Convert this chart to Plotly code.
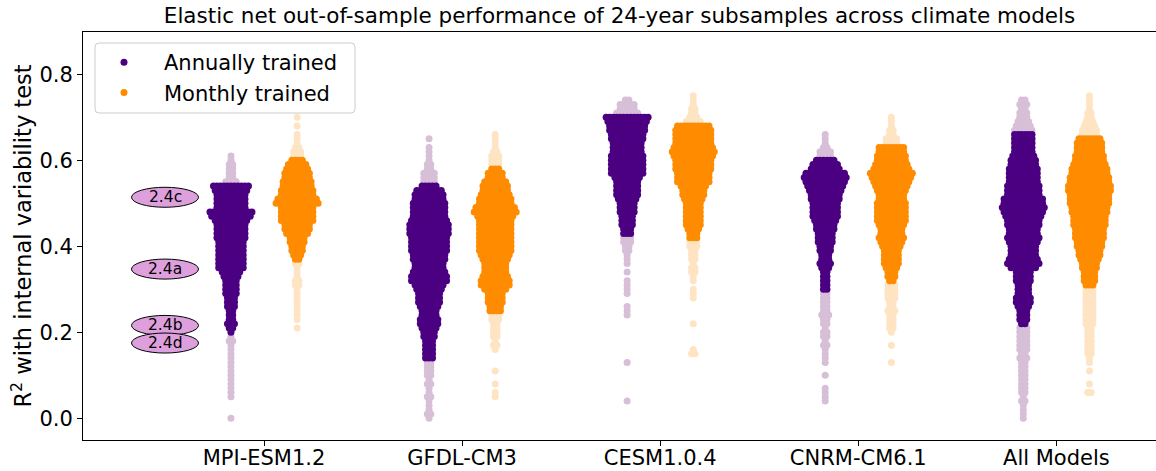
import plotly.graph_objects as go

# ---------------------------------------------------------------------------
# Data
# ---------------------------------------------------------------------------
MODELS = ["MPI-ESM1.2", "GFDL-CM3", "CESM1.0.4", "CNRM-CM6.1", "All Models"]

# Number of 24-year subsamples at each R² level (0.01 steps),
# listed upward starting from the first level given for each model.
ANNUAL_FIRST_LEVEL = [0.00, 0.00, 0.04, 0.04, 0.00]
annual_mpi = [1, 0, 0, 0, 0, 1, 1, 1, 1, 1, 1, 1, 1, 1, 1, 1, 1, 1, 2, 1,
              1, 2, 3, 2, 2, 2, 3, 3, 3, 4, 4, 4, 4, 5, 6, 8, 8, 8, 8, 8,
              8, 8, 9, 9, 9, 9, 10, 12, 13, 9, 9, 9, 9, 10, 11, 4, 2, 2, 2, 2,
              1, 1]
annual_gfdl = [1, 2, 1, 1, 1, 2, 1, 1, 2, 1, 2, 2, 2, 2, 3, 3, 3, 3, 3, 4,
               4, 5, 6, 6, 5, 5, 6, 7, 7, 7, 8, 9, 11, 11, 10, 9, 9, 10, 10, 11,
               11, 11, 11, 12, 12, 12, 11, 10, 10, 10, 10, 9, 9, 8, 5, 4, 4, 4, 2, 2,
               1, 1, 1, 1, 0, 1]
annual_cesm = [1, 0, 0, 0, 0, 0, 0, 0, 0, 1, 0, 0, 0, 0, 0, 0, 0, 0, 0, 0,
               1, 1, 1, 0, 0, 1, 1, 1, 1, 0, 1, 0, 1, 1, 1, 2, 2, 3, 3,
               3, 3, 4, 4, 4, 5, 5, 5, 6, 7, 7, 7, 7, 8, 10, 10, 10, 10, 10, 9,
               9, 9, 10, 10, 11, 11, 12, 13, 7, 5, 5, 2]
annual_cnrm = [1, 1, 1, 1, 0, 0, 1, 0, 0, 1, 1, 1, 1, 2, 1, 2, 2, 1, 2, 2,
               3, 2, 2, 2, 2, 2, 2, 2, 2, 2, 2, 3, 4, 3, 3, 4, 4, 5, 5, 5,
               6, 6, 7, 8, 8, 8, 8, 9, 9, 10, 11, 12, 13, 12, 9, 8, 6, 4, 4, 2,
               1, 1, 1]
annual_all = [1, 1, 1, 1, 2, 1, 2, 2, 2, 2, 2, 2, 2, 2, 3, 2, 3, 3, 3, 3,
              3, 3, 2, 3, 3, 3, 4, 5, 5, 4, 4, 4, 5, 5, 5, 8, 10, 9, 8, 8,
              8, 9, 10, 9, 9, 10, 10, 11, 12, 13, 12, 12, 10, 10, 10, 9, 9, 9, 9, 8,
              8, 7, 6, 6, 6, 6, 6, 6, 5, 4, 3, 3, 2, 3, 2]
ANNUAL_COUNTS = [annual_mpi, annual_gfdl, annual_cesm, annual_cnrm, annual_all]

MONTHLY_FIRST_LEVEL = [0.21, 0.05, 0.15, 0.13, 0.06]
monthly_mpi = [1, 0, 1, 1, 1, 1, 1, 1, 1, 1, 2, 2, 1, 1, 1, 2, 2, 3, 4, 4,
               5, 5, 7, 8, 8, 10, 10, 10, 10, 13, 12, 10, 10, 9, 9, 8, 8, 7, 6, 4,
               3, 3, 2, 1, 1, 1, 0, 1, 0, 1]
monthly_gfdl = [1, 1, 0, 1, 0, 0, 1, 0, 0, 0, 0, 1, 2, 1, 2, 2, 2, 2, 3, 3,
                4, 4, 5, 5, 5, 7, 9, 9, 8, 7, 7, 7, 8, 9, 10, 10, 10, 10, 10, 10,
                10, 10, 11, 13, 12, 10, 10, 9, 8, 8, 7, 5, 5, 3, 3, 3, 3, 2, 1, 1,
                1, 1]
monthly_cesm = [2, 1, 0, 0, 0, 0, 0, 1, 0, 0, 0, 0, 0, 1, 1, 1, 0, 1, 1, 2,
                2, 1, 2, 2, 2, 3, 3, 3, 3, 4, 5, 5, 5, 5, 5, 5, 6, 7, 7, 8,
                10, 10, 10, 11, 11, 11, 12, 13, 12, 11, 11, 11, 11, 10, 5, 3, 2, 2, 1, 1,
                1]
monthly_cnrm = [1, 0, 0, 0, 1, 0, 0, 1, 2, 2, 2, 2, 3, 2, 2, 3, 3, 3, 3, 2,
                3, 3, 4, 5, 5, 5, 5, 6, 7, 8, 7, 7, 8, 9, 9, 9, 9, 9, 8, 8,
                9, 10, 11, 12, 13, 11, 10, 9, 9, 8, 8, 4, 4, 2, 2, 1, 1, 1]
monthly_all = [2, 0, 1, 0, 0, 1, 0, 1, 1, 2, 2, 2, 2, 2, 2, 2, 3, 3, 3, 3,
               3, 3, 3, 3, 3, 3, 4, 4, 4, 5, 5, 6, 7, 7, 8, 8, 9, 9, 9, 10,
               10, 10, 11, 11, 12, 12, 12, 13, 13, 12, 12, 11, 11, 10, 9, 9, 8, 8, 8, 7,
               5, 5, 4, 3, 2, 2, 1, 1, 1, 1]
MONTHLY_COUNTS = [monthly_mpi, monthly_gfdl, monthly_cesm, monthly_cnrm, monthly_all]

# Central range of each distribution (points outside it are drawn pale)
ANNUAL_CORE_LOW = [0.195, 0.135, 0.425, 0.295, 0.215]
ANNUAL_CORE_HIGH = [0.545, 0.545, 0.705, 0.605, 0.665]
MONTHLY_CORE_LOW = [0.365, 0.245, 0.415, 0.315, 0.305]
MONTHLY_CORE_HIGH = [0.605, 0.585, 0.685, 0.635, 0.655]

# Reference cases shown in Fig. 2.4
FIG_LABELS = ["2.4c", "2.4a", "2.4b", "2.4d"]
FIG_R2 = [0.514, 0.347, 0.216, 0.175]

Y_TICKS = [0.0, 0.2, 0.4, 0.6, 0.8]

# ---------------------------------------------------------------------------
# Layout / style
# ---------------------------------------------------------------------------
WIDTH, HEIGHT = 1156, 471
MARGIN = dict(l=83, r=0, t=32, b=31)
X_RANGE = [-0.914, 4.503]
Y_RANGE = [-0.0505, 0.8984]
DODGE = 0.167
MARKER_PX = 7
SPACING_PX = 3.5
FONT = "DejaVu Sans"

ANNUAL_DARK, ANNUAL_PALE = "#4B0082", "#D8BFD8"
MONTHLY_DARK, MONTHLY_PALE = "#FF8C00", "#FFE4C4"

plot_w = WIDTH - MARGIN["l"] - MARGIN["r"]
plot_h = HEIGHT - MARGIN["t"] - MARGIN["b"]
px_per_x = plot_w / (X_RANGE[1] - X_RANGE[0])


def swarm(center, first_level, counts, lo, hi):
    """Spread each R² level's points horizontally around the category centre."""
    dark_x, dark_y, pale_x, pale_y = [], [], [], []
    for i, n in enumerate(counts):
        level = round(first_level + 0.01 * i, 2)
        for k in range(n):
            x = center + (k - (n - 1) / 2) * SPACING_PX / px_per_x
            if lo <= level <= hi:
                dark_x.append(x)
                dark_y.append(level)
            else:
                pale_x.append(x)
                pale_y.append(level)
    return dark_x, dark_y, pale_x, pale_y


def collect(first_levels, counts_list, lows, highs, offset):
    dx, dy, px, py = [], [], [], []
    for m in range(len(MODELS)):
        a, b, c, d = swarm(m + offset, first_levels[m], counts_list[m], lows[m], highs[m])
        dx += a
        dy += b
        px += c
        py += d
    return dx, dy, px, py


ann = collect(ANNUAL_FIRST_LEVEL, ANNUAL_COUNTS, ANNUAL_CORE_LOW, ANNUAL_CORE_HIGH, -DODGE)
mon = collect(MONTHLY_FIRST_LEVEL, MONTHLY_COUNTS, MONTHLY_CORE_LOW, MONTHLY_CORE_HIGH, DODGE)

fig = go.Figure()


def marker(color):
    return dict(color=color, size=MARKER_PX, line=dict(width=0))


fig.add_trace(go.Scatter(x=ann[2], y=ann[3], mode="markers", marker=marker(ANNUAL_PALE),
                         showlegend=False, hoverinfo="y"))
fig.add_trace(go.Scatter(x=mon[2], y=mon[3], mode="markers", marker=marker(MONTHLY_PALE),
                         showlegend=False, hoverinfo="y"))
fig.add_trace(go.Scatter(x=ann[0], y=ann[1], mode="markers", marker=marker(ANNUAL_DARK),
                         name="Annually trained", legendgroup="a", legendrank=1))
fig.add_trace(go.Scatter(x=mon[0], y=mon[1], mode="markers", marker=marker(MONTHLY_DARK),
                         name="Monthly trained", legendgroup="m", legendrank=2))

# Labelled ellipses marking the example cases
for label, r2 in zip(FIG_LABELS, FIG_R2):
    fig.add_shape(type="circle", xref="x", yref="y", xsizemode="pixel", ysizemode="pixel",
                  xanchor=-0.5, yanchor=r2, x0=-33.5, x1=33.5, y0=-10, y1=10,
                  fillcolor="#DDA0DD", line=dict(color="black", width=1), layer="above")
    fig.add_annotation(x=-0.5, y=r2, xref="x", yref="y", text=label, showarrow=False,
                       xanchor="center", yanchor="middle",
                       font=dict(family=FONT, size=15.5, color="black"))


def to_paper(px_x, px_y):
    return (px_x - MARGIN["l"]) / plot_w, 1 - (px_y - MARGIN["t"]) / plot_h


# Rounded legend frame
lx0, lx1, ly0, ly1 = 95, 355, 43, 113
x0p, y0p = to_paper(lx0, ly0)
x1p, y1p = to_paper(lx1, ly1)
rx, ry = 4 / plot_w, 4 / plot_h
path = (f"M {x0p + rx},{y0p} L {x1p - rx},{y0p} Q {x1p},{y0p} {x1p},{y0p - ry} "
        f"L {x1p},{y1p + ry} Q {x1p},{y1p} {x1p - rx},{y1p} "
        f"L {x0p + rx},{y1p} Q {x0p},{y1p} {x0p},{y1p + ry} "
        f"L {x0p},{y0p - ry} Q {x0p},{y0p} {x0p + rx},{y0p} Z")
fig.add_shape(type="path", xref="paper", yref="paper", path=path,
              fillcolor="rgba(255,255,255,0.8)", line=dict(color="#CCCCCC", width=1),
              layer="above")

lgx, lgy = to_paper(84, 42)
fig.update_layout(
    width=WIDTH, height=HEIGHT, margin=MARGIN,
    paper_bgcolor="white", plot_bgcolor="white",
    font=dict(family=FONT, size=21, color="black"),
    title=dict(text="Elastic net out-of-sample performance of 24-year subsamples across climate models",
               x=0.5, xref="paper", xanchor="center", y=1 - 15 / HEIGHT, yref="container",
               yanchor="middle", font=dict(family=FONT, size=21.5, color="black")),
    legend=dict(x=lgx, y=lgy, xanchor="left", yanchor="top", bgcolor="rgba(0,0,0,0)",
                borderwidth=0, itemwidth=70, traceorder="grouped", tracegroupgap=0,
                font=dict(family=FONT, size=21, color="black")),
    xaxis=dict(range=X_RANGE, tickmode="array", tickvals=list(range(len(MODELS))),
               ticktext=MODELS, ticks="outside", ticklen=5, tickwidth=1, tickcolor="black",
               ticklabelstandoff=-6,
               showline=True, linecolor="black", linewidth=1, mirror=True,
               showgrid=False, zeroline=False, automargin=False),
    yaxis=dict(range=Y_RANGE, tickmode="array", tickvals=Y_TICKS,
               ticktext=[f"{v:.1f}" for v in Y_TICKS], ticks="outside", ticklen=5,
               tickwidth=1, tickcolor="black", showline=True, linecolor="black",
               linewidth=1, showgrid=False, zeroline=False, automargin=False,
               title=dict(text="R<sup>2</sup> with internal variability test",
                          font=dict(family=FONT, size=22.5, color="black"), standoff=1)),
)

fig.write_html("out.html")
